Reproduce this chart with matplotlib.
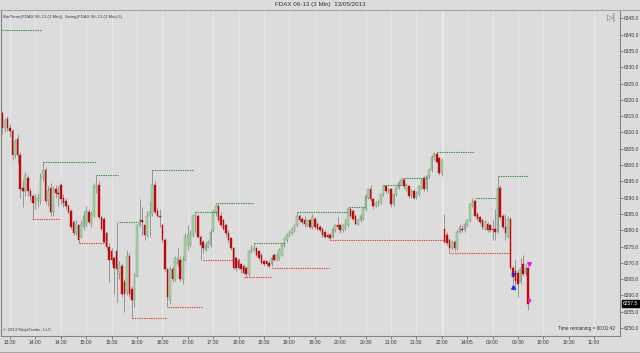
import numpy as np
import matplotlib.pyplot as plt
from matplotlib.lines import Line2D

plt.rcParams['font.family'] = ['Liberation Sans', 'DejaVu Sans']

# FDAX 06-13, 3 min bars (index 0 = 13:21, index 174 = 08:03 next session)
opens = [6316, 6311.5, 6314, 6311.5, 6310.5, 6303, 6308, 6303, 6293, 6292,
         6296, 6292, 6290.5, 6288.5, 6289, 6289, 6296, 6298.5, 6289, 6293,
         6285.5, 6292.5, 6291.5, 6294, 6290, 6289, 6287.5, 6286, 6282.5, 6279,
         6281.5, 6278, 6281, 6282, 6285.5, 6282, 6284.5, 6292.5, 6294, 6284,
         6283.5, 6279, 6275, 6273.5, 6271.5, 6273.5, 6266.5, 6269, 6264, 6261,
         6272, 6262, 6258.5, 6266, 6281.5, 6283, 6281.5, 6278.5, 6284.5, 6285,
         6294, 6286, 6284.5, 6281.5, 6277, 6268, 6258.5, 6268, 6265, 6269.5,
         6271, 6265, 6271, 6275.5, 6275.5, 6278.5, 6284.5, 6284.5, 6278, 6276.5,
         6274, 6275, 6275.5, 6280, 6285.5, 6287.5, 6284.5, 6283, 6281.5, 6279,
         6277.5, 6274.5, 6271.5, 6271, 6269.5, 6269, 6268.5, 6266.5, 6273.5, 6274,
         6274.5, 6273.5, 6272.5, 6270.5, 6270.5, 6270, 6269.5, 6272.5, 6271, 6271.5,
         6272.5, 6275.5, 6277, 6278.5, 6279, 6280, 6281.5, 6284.5, 6283.5, 6283,
         6281.5, 6283, 6281, 6283.5, 6282, 6281, 6280.5, 6279.5, 6278.5, 6278.5,
         6278, 6280, 6281.5, 6281.5, 6280, 6280.5, 6281.5, 6286.5, 6286, 6284.5,
         6282, 6283, 6283.5, 6286.5, 6290, 6292.5, 6289.5, 6287.5, 6288, 6288.5,
         6291, 6293.5, 6292, 6292.5, 6288, 6291, 6293, 6294.5, 6295.5, 6292.5,
         6293.5, 6290.5, 6292, 6290, 6291, 6293, 6296, 6292.5, 6296.5, 6298.5,
         6302.5, 6303.5, 6302, 6297.5, 6280.5, 6278.5, 6277, 6274.5, 6276.5, 6274.5,
         6279.5, 6280.5, 6280, 6281.5, 6283, 6287.5, 6289, 6285, 6284, 6283,
         6280.5, 6282, 6281.5, 6280.5, 6280.5, 6279.5, 6293, 6284.5, 6281, 6278,
         6283.5, 6268.5, 6267.5, 6267, 6264, 6269.5, 6266.5, 6268.5]
highs = [6316.5, 6314.5, 6315, 6312.5, 6311, 6308, 6309.5, 6304, 6295.5, 6298,
         6297, 6293, 6291, 6291, 6291.5, 6297.5, 6301, 6299.5, 6293.5, 6294.5,
         6293.5, 6294, 6293.5, 6294.5, 6291, 6290, 6288, 6286.5, 6283, 6283,
         6282, 6283, 6286, 6287.5, 6286.5, 6286, 6294.5, 6297, 6295, 6284.5,
         6284, 6279.5, 6276, 6274.5, 6272, 6282.5, 6270.5, 6270, 6265, 6274,
         6273, 6263, 6267, 6282, 6289.5, 6287, 6282, 6286, 6289, 6298.5,
         6295, 6287, 6286.5, 6282, 6277.5, 6268.5, 6269, 6269, 6272, 6274.5,
         6272, 6272, 6279, 6281.5, 6280, 6285, 6285.5, 6285, 6278.5, 6277,
         6276.5, 6277, 6280.5, 6286.5, 6288.5, 6288, 6285.5, 6283.5, 6282, 6280,
         6278, 6275, 6272, 6271.5, 6270, 6269.5, 6269, 6274, 6275.5, 6276,
         6275, 6274, 6273, 6271, 6271, 6270.5, 6272, 6273, 6273, 6274.5,
         6276, 6278, 6279, 6280, 6281, 6282, 6285.5, 6285, 6284, 6284.5,
         6283.5, 6283.5, 6285, 6284, 6282.5, 6281.5, 6281, 6280, 6279, 6279,
         6281, 6282, 6284, 6282, 6282, 6283.5, 6287, 6287, 6286.5, 6285,
         6283.5, 6285, 6287, 6291, 6293, 6294, 6290, 6289, 6289.5, 6291.5,
         6294, 6294, 6293, 6293, 6291.5, 6293.5, 6295, 6296, 6296, 6294.5,
         6294, 6292.5, 6292.5, 6292, 6294, 6296, 6296.5, 6297, 6299, 6303,
         6304, 6304, 6302.5, 6302, 6285, 6279.5, 6277.5, 6277, 6277, 6280,
         6282, 6281.5, 6282.5, 6283.5, 6288.5, 6290, 6289.5, 6285.5, 6284.5, 6283.5,
         6283, 6282.5, 6282, 6283, 6286.5, 6296.5, 6294, 6285, 6285, 6284.5,
         6284, 6269, 6271, 6268, 6271.5, 6272.5, 6269.5, 6269]
lows = [6309.5, 6310, 6310.5, 6308.5, 6301.5, 6302, 6300.5, 6290, 6287, 6290.5,
        6290.5, 6289, 6283.5, 6286.5, 6287, 6288, 6295, 6288, 6287.5, 6284.5,
        6284.5, 6290, 6287.5, 6288, 6287, 6286.5, 6285, 6280.5, 6278.5, 6278.5,
        6276, 6277.5, 6280, 6281, 6282, 6281, 6284, 6291.5, 6283.5, 6280,
        6276, 6274, 6264, 6269.5, 6260.5, 6258, 6265, 6259.5, 6255, 6260,
        6259.5, 6253, 6256.5, 6265.5, 6281, 6278.5, 6277, 6278, 6278, 6284.5,
        6285, 6284, 6281, 6276.5, 6267.5, 6256.5, 6257.5, 6264, 6264.5, 6269,
        6264.5, 6263.5, 6270.5, 6274, 6275, 6278, 6279, 6277.5, 6271, 6273,
        6273.5, 6274.5, 6275, 6279.5, 6284.5, 6282.5, 6281, 6280, 6278, 6276.5,
        6274, 6268, 6267.5, 6268, 6267, 6266.5, 6265.5, 6266, 6273, 6273.5,
        6272, 6271, 6269.5, 6269, 6269, 6268.5, 6269, 6270.5, 6270.5, 6271,
        6272, 6275, 6276.5, 6278, 6278.5, 6279.5, 6281, 6282.5, 6282, 6281,
        6281, 6280.5, 6280.5, 6280.5, 6280, 6279.5, 6278, 6277.5, 6277.5, 6277,
        6277.5, 6279.5, 6280.5, 6279, 6279.5, 6280, 6281, 6284, 6283, 6281.5,
        6281.5, 6282.5, 6283, 6286, 6289.5, 6289, 6286.5, 6287, 6287.5, 6288,
        6290.5, 6291.5, 6291.5, 6287, 6287.5, 6290.5, 6292.5, 6294, 6293, 6292,
        6290, 6290, 6289.5, 6289.5, 6290.5, 6292.5, 6292, 6292, 6296, 6298,
        6301.5, 6300.5, 6297, 6296.5, 6276, 6275.5, 6273, 6274, 6273.5, 6274,
        6279, 6279.5, 6279.5, 6281, 6282.5, 6287, 6284, 6283, 6282, 6280.5,
        6280, 6279.5, 6279.5, 6277, 6277, 6279, 6283.5, 6280.5, 6277, 6277.5,
        6268, 6263.5, 6261.5, 6259.5, 6263.5, 6266, 6266, 6255.5]
closes = [6311.5, 6313.5, 6311.5, 6310.5, 6303, 6307, 6303, 6292.5, 6292, 6297,
          6292, 6290.5, 6288.5, 6289.5, 6290, 6296, 6298.5, 6289, 6292, 6285.5,
          6292.5, 6291.5, 6291, 6289.5, 6288.5, 6287.5, 6285.5, 6281, 6279, 6282,
          6277, 6282, 6284.5, 6286, 6282.5, 6285, 6293.5, 6294, 6284, 6280.5,
          6276.5, 6275, 6271, 6271, 6268.5, 6268, 6269.5, 6260.5, 6260.5, 6272,
          6260.5, 6258.5, 6266, 6281.5, 6283, 6282.5, 6278.5, 6284.5, 6285.5, 6294,
          6285.5, 6284.5, 6284, 6277, 6268, 6259.5, 6268, 6265, 6271.5, 6271.5,
          6265, 6271, 6278, 6278.5, 6279, 6284.5, 6285, 6278, 6275.5, 6274.5,
          6275.5, 6276.5, 6279.5, 6285.5, 6287.5, 6283, 6281.5, 6280.5, 6279, 6277,
          6274.5, 6268.5, 6268.5, 6268.5, 6268, 6267, 6266.5, 6273.5, 6274, 6274.5,
          6272.5, 6271.5, 6270, 6269.5, 6269.5, 6269, 6271.5, 6271, 6272.5, 6274,
          6275.5, 6277.5, 6278.5, 6279.5, 6280.5, 6281.5, 6284.5, 6283, 6282.5, 6282,
          6283, 6281, 6284, 6281, 6280.5, 6280, 6278.5, 6278, 6278, 6277.5,
          6280.5, 6281.5, 6281, 6280, 6281.5, 6283, 6286.5, 6284.5, 6283.5, 6282,
          6283, 6284.5, 6286.5, 6290.5, 6292.5, 6289.5, 6287.5, 6288.5, 6289, 6291,
          6293.5, 6292, 6292.5, 6288, 6291, 6293, 6294.5, 6295.5, 6293.5, 6294,
          6290.5, 6292, 6290, 6291.5, 6293.5, 6295.5, 6292.5, 6296.5, 6298.5, 6302.5,
          6303.5, 6301, 6297.5, 6301.5, 6276.5, 6276, 6274.5, 6276.5, 6274.5, 6279.5,
          6281, 6280, 6282, 6283, 6288, 6289, 6284.5, 6283.5, 6282.5, 6281,
          6282.5, 6280, 6280, 6280, 6279.5, 6293, 6284, 6281, 6279, 6283.5,
          6268.5, 6265.5, 6264.5, 6263.5, 6268.5, 6266.5, 6268.5, 6257.5]

# swing lines (level, first bar, last bar)
hi_levels = [6341.5, 6301, 6297, 6282.5, 6298.5, 6285.5, 6288.5, 6276, 6285.5, 6287,
             6294, 6296, 6304, 6290, 6296.5]
hi_start = [-0.3, 16, 37, 46, 59, 76, 84.5, 99, 116, 136.5, 150, 157.3, 171, 186.5, 195]
hi_end = [15.6, 36.9, 45.5, 53.4, 75.5, 84.5, 98.7, 111.3, 136.1, 142.8, 157.3, 167.6,
          185.7, 194.7, 207]
lo_levels = [6283.5, 6276, 6253, 6256.5, 6271, 6265.5, 6268.5, 6277, 6273]
lo_start = [11.7, 30.2, 51, 65.2, 79, 95.1, 106, 129, 176.2]
lo_end = [22.7, 40.8, 64.4, 78.6, 90.8, 105.7, 128.6, 174.3, 199.8]

tick_pos = [3, 13, 23, 33, 43, 53, 63, 73, 83, 93, 103, 113, 123, 133, 143, 153, 163,
            173, 183, 193, 203, 213, 223, 233]
tick_labels = ['13:30', '14:00', '14:30', '15:00', '15:30', '16:00', '16:30', '17:00',
               '17:30', '18:00', '18:30', '19:00', '19:30', '20:00', '20:30', '21:00',
               '21:30', '22:00', '14/05', '09:00', '09:30', '10:00', '10:30', '11:00']
price_ticks = np.arange(6250, 6346, 5)
last_price = 6257.5

bg = '#dcdcdc'
fig = plt.figure(figsize=(6.4, 3.53), dpi=100, facecolor=bg)
ax = fig.add_axes([1 / 640, 17 / 353, 619 / 640, 326 / 353], facecolor=bg)

o = np.array(opens); h = np.array(highs); l = np.array(lows); c = np.array(closes)
x = np.arange(len(o))
up = c >= o
dn = ~up

for p in tick_pos:
    ax.axvline(p, color='#e7e7e7', lw=0.7, zorder=0)
ax.axvline(173.5, color='#e9e9e9', lw=1.6, zorder=0)

ax.vlines(x, l, h, color='#8a8a8a', lw=0.6, zorder=2)
ax.bar(x[up], np.maximum(c[up] - o[up], 0.3), bottom=o[up], width=0.62,
       color='#a5d8a5', edgecolor='#789f78', lw=0.35, zorder=3)
ax.bar(x[dn], np.maximum(o[dn] - c[dn], 0.3), bottom=c[dn], width=0.62,
       color='#bf0a0a', edgecolor='#bf0a0a', lw=0.3, zorder=3)

for lv, s, e in zip(hi_levels, hi_start, hi_end):
    ax.plot([s, e], [lv, lv], color='#3d8a3d', lw=0.8, ls=(0, (1.2, 0.9)), zorder=4)
for lv, s, e in zip(lo_levels, lo_start, lo_end):
    ax.plot([s, e], [lv, lv], color='#e8413a', lw=0.8, ls=(0, (1.2, 0.9)), zorder=4)

# trade markers
ax.plot([201], [6266.5], marker='s', ms=1.6, color='#1530ff', zorder=5)
ax.plot([201.2], [6262.5], marker='^', ms=2.6, color='#1530ff', zorder=5)
ax.plot([207.3], [6269.5], marker='v', ms=2.6, color='#ff10e0', zorder=5)
ax.plot([207.3], [6258.5], marker='s', ms=1.8, color='#ff10e0', zorder=5)

ax.set_xlim(-0.55, 243.15)
ax.set_ylim(6247.55, 6347.55)

ax.yaxis.tick_right()
ax.set_yticks(price_ticks)
ax.set_yticklabels([f'{v:.1f}' for v in price_ticks])
ax.set_xticks(tick_pos)
ax.set_xticklabels(tick_labels)
ax.tick_params(axis='both', labelsize=3.6, colors='#3a3a3a', length=2, width=0.4, pad=1)
for side in ['left', 'right', 'bottom']:
    ax.spines[side].set_color('#858585')
    ax.spines[side].set_linewidth(0.8)
ax.spines['top'].set_visible(False)

ax.annotate(f'{last_price:.1f}', xy=(1, last_price), xycoords=('axes fraction', 'data'),
            xytext=(2.2, 0), textcoords='offset points', fontsize=3.6, color='white',
            va='center', ha='left',
            bbox=dict(boxstyle='square,pad=0.2', fc='black', ec='black'))

ax.text(0.003, 0.985, 'BarTimer(FDAX 06-13 (3 Min)), Swing(FDAX 06-13 (3 Min),5)',
        transform=ax.transAxes, fontsize=3.2, color='#404040', va='top', ha='left')
ax.text(0.003, 0.012, '\u00a9 2013 NinjaTrader, LLC', transform=ax.transAxes,
        fontsize=3.2, color='#404040', va='bottom', ha='left')
ax.text(0.992, 0.015, 'Time remaining = 00:01:42', transform=ax.transAxes,
        fontsize=3.4, color='#303030', va='bottom', ha='right')

fig.text(0.5, 1 - 4.5 / 353, 'FDAX 06-13 (3 Min)  13/05/2013', ha='center', va='center',
         fontsize=4.5, color='#303030')
fig.text(612 / 640, 1 - 17 / 353, '\u25b7|', ha='center', va='center', fontsize=6,
         color='#6a6a6a', family=['DejaVu Sans'])
fig.add_artist(Line2D([0, 1], [1 - 9.5 / 353] * 2, color='#a5a5a5', lw=0.8))
fig.add_artist(Line2D([0, 1], [1.2 / 353] * 2, color='#a5a5a5', lw=0.8))

fig.savefig('out.png', dpi=100, facecolor=bg)
